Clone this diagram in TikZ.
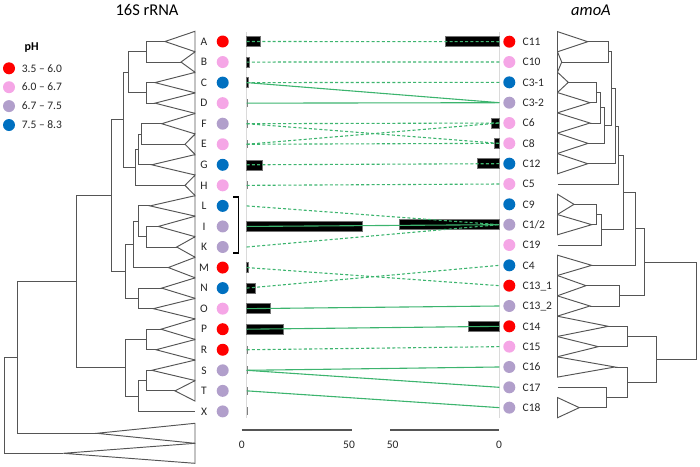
\documentclass[tikz,border=0pt]{standalone}
\usepackage{fontspec}
\setmainfont{Carlito}
\definecolor{phred}{HTML}{FF0000}
\definecolor{phpink}{HTML}{F5A6E6}
\definecolor{phlilac}{HTML}{B19FCB}
\definecolor{phblue}{HTML}{0070C0}
\definecolor{linkgreen}{HTML}{3CB46E}
\definecolor{treegray}{HTML}{555555}
\definecolor{axisgray}{HTML}{DADADA}
\definecolor{labink}{HTML}{262626}
\usetikzlibrary{positioning, calc}

\begin{document}
\begin{tikzpicture}[x=1pt, y=-1pt,
    every node/.style={font=\fontsize{11.5}{13}\selectfont, text=labink, inner sep=0pt},
    rowlab/.style={text height=7.4pt, text depth=0pt},
    tree/.style={treegray, line width=0.95pt},
    phdot/.style={circle, minimum size=12pt, inner sep=0pt},
    link/.style={linkgreen, line width=1.1pt},
    dlink/.style={link, dash pattern=on 3pt off 2.2pt},
    bar/.style={fill=black, draw=black!55, line width=0.5pt},
    tickbar/.style={black!50, line width=0.8pt}]
\useasboundingbox (0,0) rectangle (700,466);

% titles and pH legend
\node[font=\fontsize{16.5}{19}\selectfont, text=black] (ttlrna) at (147,9.5) {16S rRNA};
\node[font=\fontsize{16.5}{19}\selectfont\itshape, text=black] (ttlamo) at (591,10.5) {amoA};
\node[font=\fontsize{12}{14}\selectfont\bfseries, text=black] (phttl) at (31.7,48) {pH};
\foreach \col/\txt [count=\k from 0] in {phred/3.5 -- 6.0, phpink/6.0 -- 6.7, phlilac/6.7 -- 7.5, phblue/7.5 -- 8.3} {
  \node[phdot, fill=\col] (lgd\k) at (9,68.3+18.9*\k) {};
  \node[rowlab, right=6.5pt of lgd\k] (lgdtx\k) {\txt};
}

% rows: 16S rRNA clades
\foreach \lab/\col [count=\i from 0] in {A/phred, B/phpink, C/phblue, D/phpink, F/phlilac, E/phpink, G/phblue, H/phpink, L/phblue, I/phlilac, K/phlilac, M/phred, N/phblue, O/phpink, P/phred, R/phred, S/phlilac, T/phlilac, X/phlilac} {
  \pgfmathsetmacro{\yy}{41.5+20.55*\i}
  \node[rowlab] (ltx\i) at (204,\yy) {\lab};
  \node[phdot, fill=\col] (ldot\i) at (222.7,\yy) {};
  \coordinate (L\i) at (246.7,\yy);
}
% rows: amoA clusters
\foreach \lab/\col [count=\i from 0] in {C11/phred, C10/phpink, C3-1/phblue, C3-2/phlilac, C6/phpink, C8/phpink, C12/phblue, C5/phpink, C9/phblue, C1\slash 2/phlilac, C19/phpink, C4/phblue, C13\_1/phred, C13\_2/phlilac, C14/phred, C15/phpink, C16/phlilac, C17/phlilac, C18/phlilac} {
  \pgfmathsetmacro{\yy}{41.7+20.33*\i}
  \coordinate (R\i) at (499.3,\yy);
  \node[phdot, fill=\col] (rdot\i) at (509.3,\yy) {};
  \node[rowlab, anchor=west] (rtx\i) at (522.5,\yy) {\lab};
}

% axes of the bar panels
\draw[axisgray, line width=0.8pt] (246.7,32) -- (246.7,418);
\draw[axisgray, line width=0.8pt] (499.3,32) -- (499.3,418);

% bars
\foreach \i/\w in {0/13.3, 1/2.6, 2/2, 6/15.3, 9/115.3, 11/2, 12/8.3, 13/23.3, 14/36.3}
  \path[bar] ($(L\i)+(0,-5)$) rectangle ($(L\i)+(\w,5)$);
\foreach \i in {3,4,5,7,15,16,17,18}
  \draw[tickbar] ($(L\i)+(0.6,-4)$) -- ($(L\i)+(0.6,4)$);
\foreach \i/\w in {0/54.3, 4/7.6, 5/5.3, 6/22.3, 9/100.3, 14/30.6}
  \path[bar] ($(R\i)+(-\w,-5)$) rectangle ($(R\i)+(0,5)$);

% links between clades and clusters
\draw[dlink] (L0) -- (R0);
\draw[dlink] (L1) -- (R1);
\draw[dlink] (L2) -- (R2);
\draw[link] (L2) -- (R3);
\draw[link] (L3) -- (R3);
\draw[dlink] (L4) -- (R4);
\draw[dlink] (L4) -- (R5);
\draw[dlink] (L5) -- (R4);
\draw[dlink] (L5) -- (R5);
\draw[dlink] (L6) -- (R6);
\draw[dlink] (L7) -- (R7);
\draw[dlink] (L8) -- (R9);
\draw[link] (L9) -- (R9);
\draw[dlink] (L10) -- (R9);
\draw[dlink] (L11) -- (R12);
\draw[dlink] (L12) -- (R11);
\draw[link] (L13) -- (R13);
\draw[link] (L14) -- (R14);
\draw[dlink] (L15) -- (R15);
\draw[link] (L16) -- (R16);
\draw[link] (L16) -- (R17);
\draw[link] (L17) -- (R18);

% bracket over L, I, K
\draw[black, line width=1.4pt] (233,197) -- (238.7,197) -- (238.7,253) -- (233,253);

% scale bars
\coordinate (sa0) at (241.7,430);
\coordinate (sa50) at (351.7,430);
\coordinate (sb50) at (390,430);
\coordinate (sb0) at (499,430);
\draw[treegray, line width=1.2pt] (sa0) -- (sa50);
\draw[treegray, line width=1.2pt] (sb50) -- (sb0);
\node[rowlab, below=10.5pt of sa0] (sclA) {0};
\node[rowlab, below=10.5pt of sa50, xshift=-2.7pt] (sclB) {50};
\node[rowlab, below=10.5pt of sb50, xshift=2.7pt] (sclC) {50};
\node[rowlab, below=10.5pt of sb0] (sclD) {0};

% 16S rRNA tree
\foreach \i/\ax in {0/165, 1/181, 2/155, 3/155, 4/161.7, 5/185, 6/151.7, 7/185, 8/150, 9/158.3, 10/176.7, 11/168.3, 12/161.7, 13/153.3, 14/161, 15/156, 16/151.7, 17/175} {
  \pgfmathsetmacro{\yy}{41.5+20.55*\i}
  \draw[tree] (195,\yy-10.2) -- (\ax,\yy) -- (195,\yy+10.2) -- cycle;
}
\draw[tree] (195,423.3) -- (96.7,433.3) -- (195,443.3) -- cycle;
\draw[tree] (195,443.3) -- (63.3,453.3) -- (195,463.3) -- cycle;
\draw[tree] (165,41.5) -- (146.7,41.5) |- (181,62.05);
\draw[tree] (155,82.6) -- (146.7,82.6) |- (155,103.15);
\draw[tree] (146.7,51.8) -- (128.3,51.8) |- (146.7,92.9);
\draw[tree] (161.7,123.7) -- (141.7,123.7) |- (185,144.25);
\draw[tree] (141.7,134) -- (138.3,134) |- (151.7,164.8);
\draw[tree] (138.3,149.4) -- (135,149.4) |- (185,185.35);
\draw[tree] (128.3,72.35) -- (123.3,72.35) |- (135,167.4);
\draw[tree] (158.3,226.45) -- (146.7,226.45) |- (176.7,247);
\draw[tree] (150,205.9) -- (138.3,205.9) |- (146.7,236.7);
\draw[tree] (138.3,221.3) -- (133.3,221.3) |- (168.3,267.55);
\draw[tree] (161.7,288.1) -- (138.3,288.1) |- (153.3,308.65);
\draw[tree] (133.3,244.4) -- (125,244.4) |- (138.3,298.4);
\draw[tree] (123.3,119.9) -- (111,119.9) |- (125,271.4);
\draw[tree] (161,329.2) -- (146.7,329.2) |- (156,349.75);
\draw[tree] (151.7,370.3) -- (146.7,370.3) |- (175,390.85);
\draw[tree] (146.7,380.6) -- (138.3,380.6) |- (195,411.4);
\draw[tree] (146.7,339.5) -- (125,339.5) |- (138.3,396);
\draw[tree] (111,195.65) -- (76.7,195.65) |- (125,367.75);
\draw[tree] (76.7,281.7) -- (17.3,281.7) |- (96.7,433.3);
\draw[tree] (17.3,357.5) -- (4,357.5) |- (63.3,453.3);

% amoA tree
\foreach \i/\ax in {0/587.7, 1/561.7, 2/568.3, 3/590, 4/590, 5/588, 6/587.7, 8/574, 9/591.7, 11/591.7, 12/586, 13/590, 14/608.3, 15/598.3, 16/615, 18/579.3} {
  \pgfmathsetmacro{\yy}{41.7+20.33*\i}
  \draw[tree] (557.5,\yy-10.1) -- (\ax,\yy) -- (557.5,\yy+10.1) -- cycle;
}
\draw[tree] (587.7,41.7) -- (608.3,41.7) |- (561.7,62.03);
\draw[tree] (568.3,82.36) -- (596.7,82.36) |- (590,102.69);
\draw[tree] (596.7,92.5) -- (600,92.5) |- (590,123.02);
\draw[tree] (600,107.8) -- (604,107.8) |- (588,143.35);
\draw[tree] (608.3,51.87) -- (611,51.87) |- (604,125.6);
\draw[tree] (611,88.7) -- (615,88.7) |- (587.7,163.68);
\draw[tree] (615,126.2) -- (618.3,126.2) |- (557.5,184.01);
\draw[tree] (574,204.34) -- (596.7,204.34) |- (591.7,224.67);
\draw[tree] (596.7,214.5) -- (601,214.5) |- (557.5,245);
\draw[tree] (618.3,155.1) -- (623.3,155.1) |- (601,229.75);
\draw[tree] (623.3,192.4) -- (635,192.4) |- (591.7,265.33);
\draw[tree] (586,285.66) -- (619.3,285.66) |- (590,305.99);
\draw[tree] (635,228.9) -- (644,228.9) |- (619.3,295.8);
\draw[tree] (608.3,326.32) -- (627.3,326.32) |- (598.3,346.65);
\draw[tree] (579.3,407.64) -- (606.7,407.64) |- (557.5,387.31);
\draw[tree] (615,366.98) -- (627.7,366.98) |- (606.7,397.5);
\draw[tree] (627.3,336.5) -- (656.7,336.5) |- (627.7,382.2);
\draw[tree] (644,262.35) -- (696.7,262.35) |- (656.7,359.35);
\end{tikzpicture}
\end{document}
